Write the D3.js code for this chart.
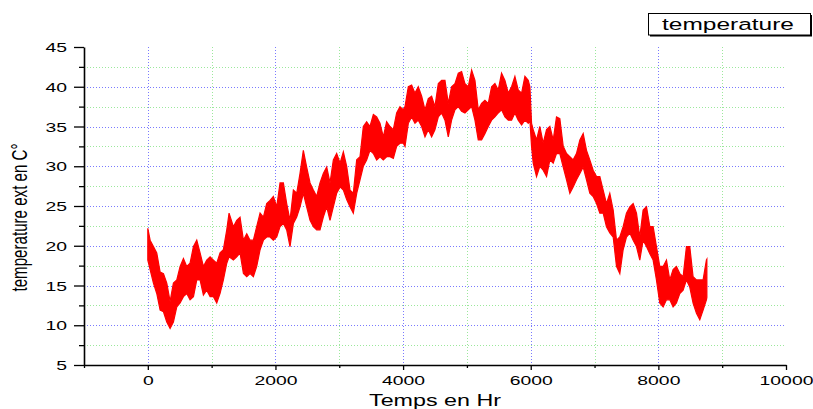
<!DOCTYPE html>
<html>
<head>
<meta charset="utf-8">
<script src="https://cdn.jsdelivr.net/npm/d3@7"></script>
<style>
  html, body { margin: 0; padding: 0; background: #fff; }
  svg { display: block; font-family: "Liberation Sans", Arial, sans-serif; }
</style>
</head>
<body>
<svg id="chart" width="813" height="409"></svg>
<script>
// Hourly outdoor temperature over one year, summarised as the daily
// low/high envelope of the red trace at each sampled hour.
const hours = [
  0, 36, 88, 140, 193, 245, 297, 349, 401, 454,
  506, 558, 610, 662, 715, 767, 819, 871, 923, 976,
  1028, 1080, 1132, 1184, 1237, 1273, 1341, 1393, 1445, 1498,
  1550, 1602, 1654, 1706, 1759, 1811, 1863, 1915, 1967, 2020,
  2072, 2124, 2176, 2228, 2281, 2333, 2385, 2437, 2489, 2542,
  2594, 2646, 2698, 2750, 2803, 2855,
  2907, 2959, 3012, 3064, 3116, 3168, 3220, 3273, 3325, 3377,
  3429, 3481, 3534, 3586, 3638, 3690, 3742, 3795, 3847, 3899,
  3951, 4003, 4030, 4082, 4134, 4186, 4238, 4291, 4343, 4395,
  4447, 4499, 4552, 4604, 4656, 4708, 4760, 4813, 4865, 4917,
  4969, 5021, 5074, 5126, 5178, 5230, 5282, 5335, 5387, 5439,
  5491, 5543, 5596, 5648, 5700, 5752, 5804, 5857, 5909, 5961,
  5987, 6013, 6039, 6091, 6143, 6195, 6248, 6300, 6352, 6404,
  6456, 6509, 6561, 6613, 6665, 6717, 6770, 6822, 6874, 6926,
  6978, 7031, 7083, 7135, 7187, 7239, 7292, 7344, 7396, 7448,
  7500, 7553, 7605, 7657, 7709, 7761, 7814, 7866, 7918, 7970,
  8022, 8075, 8127, 8179, 8231, 8283, 8336, 8388, 8440, 8492,
  8544, 8597, 8649, 8701, 8753, 8760
];

const tempHigh = [
  22.2, 20.7, 19.9, 19.1, 16.7, 16.5, 15.3, 13.0, 15.3, 15.7,
  17.4, 18.4, 17.4, 17.8, 19.9, 20.7, 19.1, 17.4, 18.2, 18.6,
  18.2, 17.8, 19.1, 19.5, 22.0, 24.1, 22.4, 23.2, 23.6, 20.7,
  21.5, 20.7, 20.7, 22.4, 24.1, 23.6, 25.3, 25.7, 26.2, 24.9,
  27.9, 27.9, 25.3, 23.2, 27.0, 26.6, 29.1, 32.0, 29.9, 27.9,
  27.0, 26.2, 27.9, 29.1, 29.9, 27.9,
  30.8, 31.6, 30.4, 31.8, 30.0, 27.0, 26.6, 30.8, 31.2, 35.0,
  35.6, 35.0, 36.5, 36.2, 35.4, 33.7, 35.6, 35.0, 34.6, 36.7,
  37.5, 37.1, 37.5, 40.0, 40.2, 39.2, 40.0, 38.8, 37.1, 38.5,
  38.8, 37.5, 40.4, 40.8, 40.8, 37.9, 40.0, 40.4, 41.7, 41.9,
  40.4, 40.0, 42.1, 40.8, 37.1, 37.9, 38.3, 37.9, 40.0, 40.4,
  39.6, 41.7, 40.8, 39.2, 40.0, 41.3, 39.6, 39.2, 41.3, 40.8,
  40.0, 35.4, 34.6, 33.3, 35.0, 32.9, 34.6, 35.0, 33.3, 36.2,
  36.0, 32.5, 31.6, 31.2, 30.8, 31.6, 33.3, 34.1, 32.0, 30.8,
  29.5, 28.7, 28.7, 27.0, 25.3, 26.6, 24.5, 20.7, 21.1, 22.4,
  24.1, 24.9, 25.3, 24.1, 21.1, 24.5, 24.9, 22.4, 22.4, 19.9,
  17.4, 17.4, 18.2, 15.7, 17.0, 17.4, 16.5, 16.1, 19.9, 19.9,
  16.1, 15.7, 15.7, 15.7, 18.2, 18.3
];

const tempLow = [
  18.2, 17.0, 15.3, 14.0, 11.9, 11.7, 10.4, 9.6, 10.4, 12.3,
  12.8, 13.6, 14.0, 13.2, 13.6, 15.7, 15.7, 13.8, 14.4, 13.6,
  13.6, 12.8, 14.0, 15.7, 17.8, 18.6, 18.2, 18.6, 19.1, 16.5,
  16.1, 16.5, 16.1, 17.4, 19.5, 20.7, 21.1, 21.1, 20.7, 21.1,
  22.4, 22.8, 22.0, 19.9, 22.8, 23.6, 24.9, 26.6, 24.9, 23.2,
  22.4, 22.0, 22.0, 23.6, 24.9, 23.2,
  24.9, 26.6, 27.4, 27.0, 25.8, 24.9, 24.1, 26.6, 28.3, 30.0,
  30.8, 32.0, 31.6, 30.8, 31.2, 30.8, 31.2, 31.2, 31.0, 32.5,
  32.9, 32.9, 32.5, 35.4, 36.2, 35.4, 35.8, 35.0, 33.7, 34.6,
  33.7, 34.6, 36.2, 36.7, 35.8, 33.7, 35.8, 37.1, 37.5, 36.9,
  36.7, 37.1, 37.5, 35.8, 33.3, 33.3, 34.1, 35.0, 35.8, 36.2,
  36.7, 37.1, 36.2, 35.8, 35.8, 36.7, 35.8, 35.2, 35.8, 35.4,
  35.8, 32.5, 30.4, 28.7, 30.0, 29.5, 28.7, 30.8, 30.4, 31.6,
  31.6, 29.9, 28.3, 26.6, 27.4, 28.3, 29.1, 29.9, 28.3, 26.6,
  26.2, 25.3, 24.1, 24.1, 22.4, 21.6, 21.1, 17.4, 16.5, 19.5,
  21.1, 21.6, 20.7, 19.9, 18.2, 20.7, 19.9, 19.0, 18.2, 15.7,
  12.8, 12.3, 13.2, 13.2, 12.3, 12.8, 14.0, 14.4, 15.7, 14.8,
  12.8, 11.5, 10.7, 11.9, 13.2, 13.5
];

const xMajorTicks = [0, 2000, 4000, 6000, 8000, 10000];
const xMinorTicks = [-1000, 1000, 3000, 5000, 7000, 9000];
const yMajorTicks = [5, 10, 15, 20, 25, 30, 35, 40, 45];
const yMinorTicks = [7.5, 12.5, 17.5, 22.5, 27.5, 32.5, 37.5, 42.5];
const seriesName = "temperature";
const xTitle = "Temps en Hr";
const yTitle = "temperature ext en C°";

const svg = d3.select("#chart");
const plot = { left: 84, right: 786, top: 47, bottom: 365 };
const SX = 1.55;          // horizontal widening of the glyphs

const x = d3.scaleLinear().domain([-1000, 10000]).range([plot.left, plot.right]);
const y = d3.scaleLinear().domain([5, 45]).range([plot.bottom, plot.top]);
const px = v => Math.round(v) + 0.5;

svg.append("rect").attr("width", 813).attr("height", 409).attr("fill", "#fff");

// dotted grid: blue on major ticks, green on minor ticks
const grid = svg.append("g").attr("class", "grid");
function vGrid(values, color) {
  grid.append("g").selectAll("line").data(values).join("line")
    .attr("x1", d => px(x(d))).attr("x2", d => px(x(d)))
    .attr("y1", plot.top).attr("y2", plot.bottom)
    .attr("stroke", color).attr("stroke-width", 1).attr("stroke-dasharray", "1,2");
}
function hGrid(values, color) {
  grid.append("g").selectAll("line").data(values).join("line")
    .attr("x1", plot.left).attr("x2", plot.right)
    .attr("y1", d => px(y(d))).attr("y2", d => px(y(d)))
    .attr("stroke", color).attr("stroke-width", 1).attr("stroke-dasharray", "1,2");
}
vGrid(xMajorTicks.filter(d => d > x.domain()[0] && d < x.domain()[1]), "#7a7aff");
vGrid(xMinorTicks.filter(d => d > x.domain()[0] && d < x.domain()[1]), "#9be89b");
hGrid(yMajorTicks.filter(d => d > y.domain()[0] && d < y.domain()[1]), "#7a7aff");
hGrid(yMinorTicks, "#9be89b");

// temperature trace (daily swing envelope)
const band = d3.area()
  .x((d, i) => x(hours[i]))
  .y0((d, i) => y(tempLow[i]))
  .y1((d, i) => y(tempHigh[i]));
svg.append("path").datum(hours)
  .attr("d", band)
  .attr("fill", "#ff0000")
  .attr("stroke", "#ff0000")
  .attr("stroke-width", 1.2)
  .attr("stroke-linejoin", "miter");

// axes
const tickFont = "12.5px";
const gyMinor = svg.append("g").attr("transform", `translate(${plot.left},0)`)
  .call(d3.axisLeft(y).tickValues(yMinorTicks).tickSize(5).tickFormat(""));
gyMinor.select(".domain").remove();

const gy = svg.append("g").attr("transform", `translate(${plot.left},0)`)
  .call(d3.axisLeft(y).tickValues(yMajorTicks).tickSize(10).tickSizeOuter(0).tickFormat(d3.format("d")));
gy.selectAll(".tick text")
  .attr("x", -17 / SX).attr("dy", "0.36em")
  .attr("transform", `scale(${SX},1)`)
  .style("font-size", tickFont).attr("fill", "#000");

const gxMinor = svg.append("g").attr("transform", `translate(0,${plot.bottom})`)
  .call(d3.axisBottom(x).tickValues(xMinorTicks).tickSize(3).tickFormat(""));
gxMinor.select(".domain").remove();

const gx = svg.append("g").attr("transform", `translate(0,${plot.bottom})`)
  .call(d3.axisBottom(x).tickValues(xMajorTicks).tickSize(5).tickSizeOuter(0).tickFormat(d3.format("d")));
gx.selectAll(".tick text")
  .attr("y", 11).attr("dy", "0.71em")
  .attr("transform", `scale(${SX},1)`)
  .style("font-size", tickFont).attr("fill", "#000");

svg.selectAll(".domain").attr("stroke", "#000").attr("stroke-width", 1.6);
svg.selectAll(".tick line").attr("stroke", "#000").attr("stroke-width", 1.3);

// axis titles
svg.append("text")
  .attr("transform", `translate(435,406) scale(1.455,1)`)
  .attr("text-anchor", "middle")
  .style("font-size", "16px")
  .text(xTitle);

svg.append("text")
  .attr("transform", `translate(27,217.5) rotate(-90) scale(1,1.5)`)
  .attr("text-anchor", "middle")
  .attr("textLength", 148).attr("lengthAdjust", "spacingAndGlyphs")
  .style("font-size", "15px")
  .text(yTitle);

// legend
const legend = svg.append("g");
legend.append("rect").attr("x", 650).attr("y", 15).attr("width", 162).attr("height", 21.5).attr("fill", "#000");
legend.append("rect").attr("x", 648.5).attr("y", 13.5).attr("width", 162).attr("height", 21.5)
  .attr("fill", "#fff").attr("stroke", "#000").attr("stroke-width", 1);
legend.append("text")
  .attr("transform", `translate(662,30) scale(1.44,1)`)
  .style("font-size", "17px")
  .text(seriesName);
</script>
</body>
</html>
